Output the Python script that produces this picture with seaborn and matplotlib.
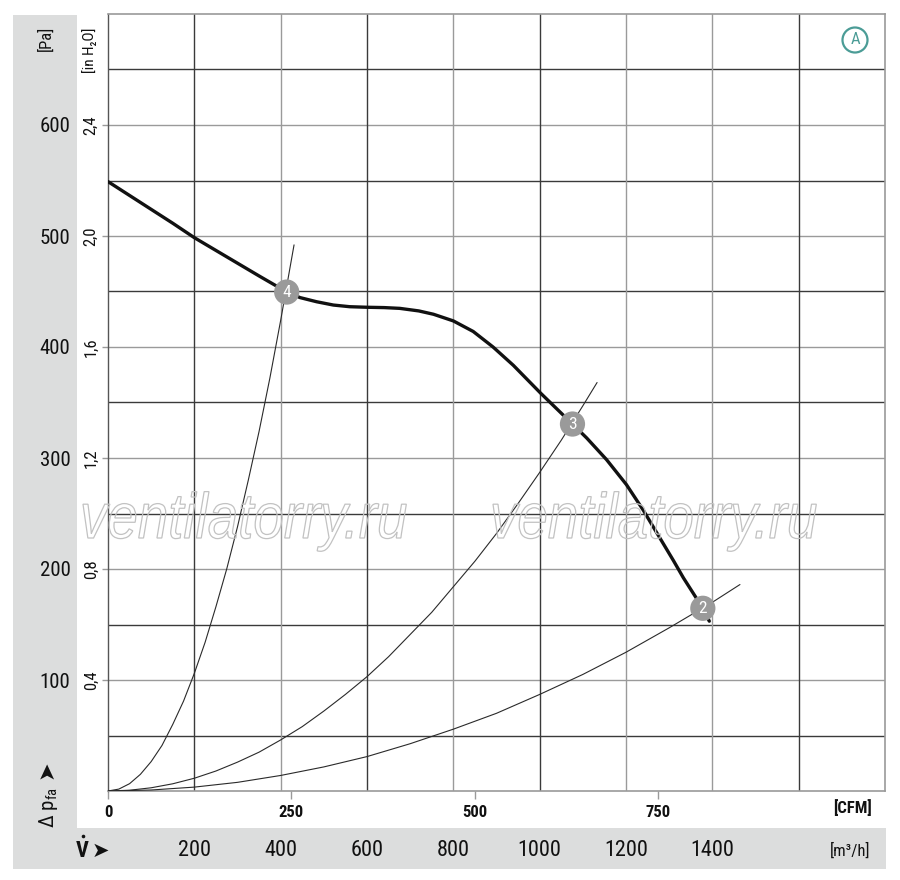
import matplotlib
matplotlib.use('Agg')
import matplotlib.pyplot as plt
import seaborn as sns
import numpy as np
import pandas as pd
from matplotlib import font_manager as fm
from matplotlib.patches import Rectangle, PathPatch
from matplotlib.lines import Line2D
from matplotlib.textpath import TextPath
from matplotlib.transforms import Affine2D, blended_transform_factory

# ---------------- data ----------------
fan_flow = [0, 50, 100, 150, 200, 250, 300, 350, 390, 414, 445, 483, 522, 560,
            600, 640, 676, 720, 754, 800, 846, 892, 939, 1002, 1047, 1076, 1109,
            1155, 1201, 1240, 1263, 1310, 1333, 1378, 1393]
fan_pressure = [549, 536.5, 524, 511.5, 498.5, 487, 475.5, 464, 455, 449.5, 444.5,
                440.8, 437.8, 436.3, 435.8, 435.5, 434.8, 432.5, 429.5, 423.5, 414,
                400, 383.5, 358.5, 341.5, 330.6, 318, 298.5, 276, 253, 238, 207.5,
                192, 164.6, 153]

sys4_flow = [0, 25, 50, 75, 100, 125, 150, 175, 200, 225, 250, 275, 300, 325, 350,
             375, 400, 431]
sys4_pressure = [0, 1.7, 6.6, 15, 26.5, 41, 60, 81, 106, 134, 166, 200, 238, 280,
                 324, 372, 424, 492]
sys3_flow = [0, 50, 100, 150, 200, 250, 300, 350, 400, 450, 500, 550, 600, 650, 700,
             750, 800, 850, 900, 950, 1000, 1050, 1100, 1133]
sys3_pressure = [0, 0.7, 2.9, 6.5, 11.5, 18, 26, 35, 46, 58, 72, 87, 103, 121, 141,
                 161, 184, 207, 232, 259, 287, 316, 347, 368]
sys2_flow = [0, 100, 200, 300, 400, 500, 600, 700, 800, 900, 1000, 1100, 1200, 1300,
             1400, 1464]
sys2_pressure = [0, 0.9, 3.5, 7.8, 14, 21.7, 31, 42.6, 55.7, 70, 87, 105, 125, 147,
                 170, 186]

point_labels = ['4', '3', '2']
point_flow = [414, 1076, 1378]
point_pressure = [449.5, 330.6, 164.6]

pa_ticks = [100, 200, 300, 400, 500, 600]
inh2o_labels = ['0,4', '0,8', '1,2', '1,6', '2,0', '2,4']
cfm_ticks = [0, 250, 500, 750]
m3h_ticks = [200, 400, 600, 800, 1000, 1200, 1400]
CFM_TO_M3H = 1.699

# ---------------- fonts ----------------
def pick(names):
    for n in names:
        try:
            fm.findfont(fm.FontProperties(family=n), fallback_to_default=False)
            return n
        except Exception:
            pass
    return 'DejaVu Sans'

sns.set_theme(style='white')
NARROW = pick(['Liberation Sans Narrow', 'Roboto Condensed', 'Liberation Sans'])
plt.rcParams['font.family'] = [NARROW, 'DejaVu Sans']
FAM = [NARROW, 'DejaVu Sans']
INK = '#111111'

W, H = 900, 880
fig = plt.figure(figsize=(W / 100, H / 100), dpi=100)
fig.patch.set_facecolor('white')

def fx(px):
    return px / W

def fy(py):
    return 1 - py / H

# gray panels
panel = '#dcdddd'
fig.add_artist(Rectangle((fx(13), fy(869)), fx(77) - fx(13), fy(15) - fy(869),
                         transform=fig.transFigure, fc=panel, ec='none', zorder=0))
fig.add_artist(Rectangle((fx(13), fy(869)), fx(886) - fx(13), fy(828) - fy(869),
                         transform=fig.transFigure, fc=panel, ec='none', zorder=0))

ax = fig.add_axes([fx(108), fy(791), fx(885) - fx(108), fy(14) - fy(791)])
ax.set_facecolor('white')
ax.set_xlim(0, 1800)
ax.set_ylim(0, 700)

# grid
for p in np.arange(50, 700, 50):
    col = '#9a9a9a' if p % 100 == 0 else '#3a3a3a'
    ax.axhline(p, color=col, lw=1.0, zorder=1)
for v in np.arange(200, 1800, 200):
    col = '#9a9a9a' if v in (400, 800, 1200, 1400) else '#3a3a3a'
    ax.axvline(v, color=col, lw=1.0, zorder=1)
for s in ['top', 'right', 'bottom']:
    ax.spines[s].set_color('#9a9a9a')
    ax.spines[s].set_linewidth(1.2)
ax.spines['left'].set_color('#555555')
ax.spines['left'].set_linewidth(1.0)

# watermarks (outlined italic text)
fp_wm = fm.FontProperties(family='Liberation Sans', style='italic')
for x0 in (80, 490):
    tp = TextPath((0, 0), 'ventilatorry.ru', size=64, prop=fp_wm)
    tr = Affine2D().scale(0.855, 1.0).translate(x0, H - 538)
    fig.add_artist(PathPatch(tp, transform=tr, fc='none', ec='#c2c2c2', lw=0.9, zorder=3))

# system curves
for fl, pr in [(sys4_flow, sys4_pressure), (sys3_flow, sys3_pressure), (sys2_flow, sys2_pressure)]:
    sns.lineplot(x=fl, y=pr, sort=False, ax=ax, color='#2a2a2a', lw=0.8, zorder=4,
                 estimator=None)

# fan curve
sns.lineplot(x=fan_flow, y=fan_pressure, sort=False, ax=ax, color='#111111', lw=2.4,
             zorder=5, estimator=None)

# operating points
sns.scatterplot(x=point_flow, y=point_pressure, ax=ax, s=330, color='#9a9a9a',
                edgecolor='none', zorder=6)
for lab, xv, yv in zip(point_labels, point_flow, point_pressure):
    ax.text(xv, yv, lab, ha='center', va='center', color='white', fontsize=12.5,
            zorder=7, family=FAM)

# y ticks (Pa)
ax.set_yticks(pa_ticks)
ax.set_yticklabels([str(p) for p in pa_ticks])
ax.tick_params(axis='y', length=4, width=1, color='#9a9a9a', pad=23, labelsize=15,
               labelcolor=INK, left=True)

# x ticks (CFM)
ax.set_xticks([c * CFM_TO_M3H for c in cfm_ticks])
ax.set_xticklabels([str(c) for c in cfm_ticks])
ax.tick_params(axis='x', length=6, width=1, color='#9a9a9a', pad=4, labelsize=12,
               labelcolor=INK, bottom=True)
for t in ax.get_xticklabels():
    t.set_fontweight('bold')
ax.set_xlabel('')
ax.set_ylabel('')

# inH2O labels
tr_y = blended_transform_factory(fig.transFigure, ax.transData)
for p, lab in zip(pa_ticks, inh2o_labels):
    ax.text(fx(91), p, lab, transform=tr_y, rotation=90, ha='center', va='center',
            fontsize=12, color=INK, family=FAM)

# m3/h labels
tr_x = blended_transform_factory(ax.transData, fig.transFigure)
for v in m3h_ticks:
    ax.text(v, fy(850), str(v), transform=tr_x, ha='center', va='center',
            fontsize=16, color=INK, family=FAM, clip_on=False)

# unit labels
fig.text(fx(46), fy(38), '[Pa]', rotation=90, ha='center', va='center', fontsize=12,
         color=INK, family=FAM)
fig.text(fx(90), fy(50), '[in H\u2082O]', rotation=90, ha='center', va='center',
         fontsize=11, color=INK, family=FAM)
fig.text(fx(872), fy(808), '[CFM]', ha='right', va='center', fontsize=12,
         fontweight='bold', color=INK, family=FAM)
fig.text(fx(870), fy(851), '[m\u00b3/h]', ha='right', va='center', fontsize=12,
         color=INK, family=FAM)

# V-dot with arrow
fig.text(fx(76), fy(851), 'V', ha='left', va='center', fontsize=16,
         fontweight='bold', color=INK, family=FAM)
fig.add_artist(Line2D([fx(82.5)], [fy(836)], marker='o', ms=2.6, color=INK,
                      markeredgewidth=0, transform=fig.transFigure))
fig.text(fx(92), fy(851), '\u27a4', ha='left', va='center', fontsize=15,
         color=INK, family=['DejaVu Sans'])

# delta p_fa with arrow (rotated)
fig.text(fx(49), fy(828), '\u0394 p$_{\\mathregular{fa}}$', rotation=90,
         ha='center', va='bottom', fontsize=15, color=INK, family=FAM)
fig.text(fx(46), fy(770), '\u27a4', rotation=90, ha='center', va='center',
         fontsize=16, color=INK, family=['DejaVu Sans'])

# circled A
teal = '#4b9c96'
fig.text(fx(855), fy(40), 'A', ha='center', va='center', color=teal, fontsize=12,
         family=FAM, bbox=dict(boxstyle='circle,pad=0.3', fc='white', ec=teal, lw=1.6))

fig.savefig('out.png', dpi=100, facecolor='white')
